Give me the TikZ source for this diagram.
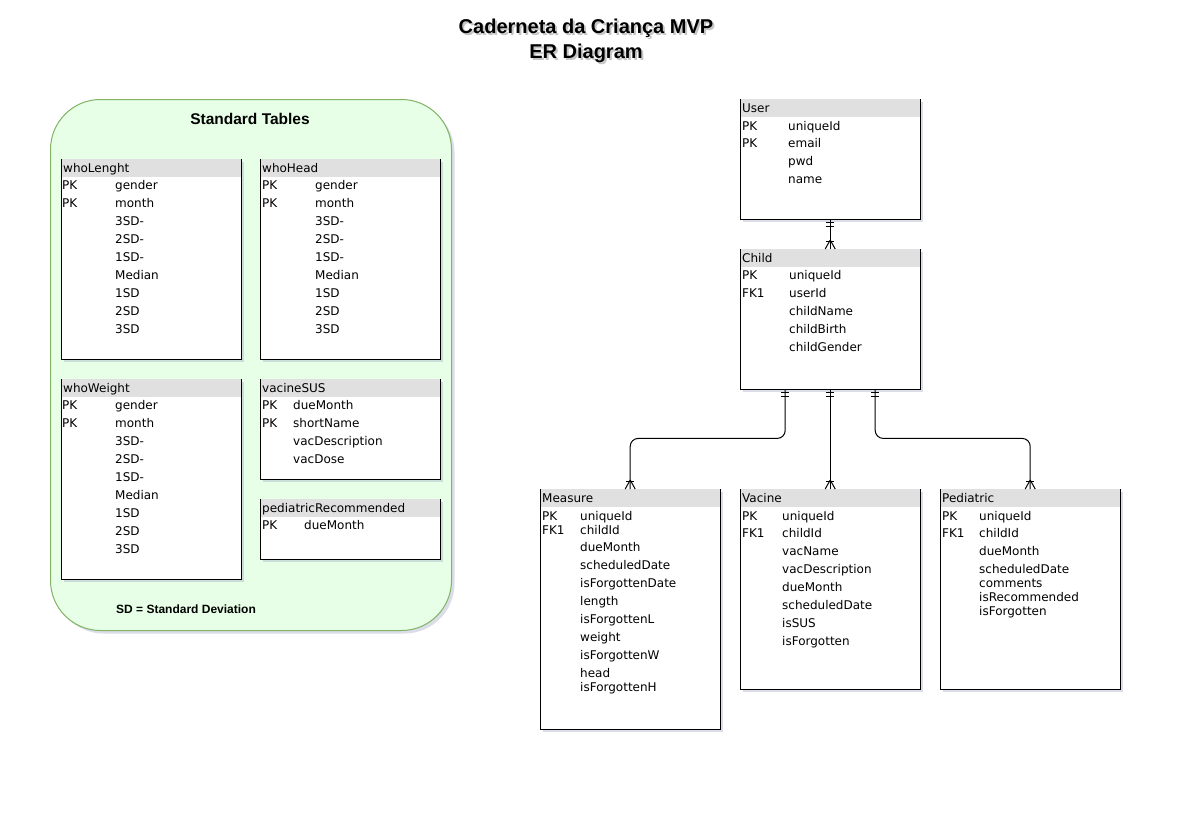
\documentclass[tikz,border=0pt]{standalone}
\usepackage{fontspec}
\setmainfont{DejaVu Sans}
\newfontfamily\arialfont{Liberation Sans}
\usetikzlibrary{positioning,shadows,decorations.markings}

\definecolor{hdrgray}{HTML}{E0E0E0}
\definecolor{stdfill}{HTML}{E6FFE6}
\definecolor{stdline}{HTML}{82B366}
\definecolor{shadowblue}{HTML}{9AA0C0}

\tikzset{
	tblbody/.style={anchor=north west,fill=white,inner sep=0pt,
		drop shadow={shadow xshift=3pt,shadow yshift=-3pt,fill=shadowblue,opacity=0.35}},
	fld/.style={anchor=west,inner sep=0pt,text height=10.5pt,text depth=1pt,
		font=\fontsize{12}{14}\selectfont},
	boldtxt/.style={font=\arialfont\bfseries\fontsize{#1}{#1}\selectfont},
	erel/.style={line width=1pt,postaction={decorate,decoration={markings,
		mark=at position 3pt with {\draw[line width=1pt] (0,-4pt) -- (0,4pt);},
		mark=at position 7pt with {\draw[line width=1pt] (0,-4pt) -- (0,4pt);},
		mark=at position -9pt with {\draw[line width=1pt] (0,0) -- (9pt,5pt) (0,0) -- (9pt,-5pt);},
		mark=at position -8pt with {\draw[line width=1pt] (0,-4pt) -- (0,4pt);}}}}
}

% table: name, x, y, width, height, title
\newcommand\ertable[6]{%
	\node[tblbody,minimum width=#4pt,minimum height=#5pt] (#1) at (#2,#3) {};
	\fill[hdrgray] (#1.north west) rectangle ([yshift=-18pt]#1.north east);
	\draw[line width=1pt] (#1.north west) |- (#1.south east) -- (#1.north east);
	\node[fld] (#1-title) at ([xshift=2pt,yshift=-9pt]#1.north west) {#6};
}

\begin{document}
\begin{tikzpicture}[x=1pt,y=-1pt]
	\path[use as bounding box,fill=white] (0,0) rectangle (1180,838);
	
	% title
	\node[font=\arialfont\bfseries\fontsize{20}{25}\selectfont,align=center,text=gray,opacity=0.45] (title-sh) at (588,43) {Caderneta da Criança MVP\\ER Diagram};
	\node[font=\arialfont\bfseries\fontsize{20}{25}\selectfont,align=center] (title) at (586,41) {Caderneta da Criança MVP\\ER Diagram};
	
	% standard tables
	\node[anchor=north west,minimum width=401pt,minimum height=531pt,rounded corners=50pt,
		fill=stdfill,draw=stdline,line width=1pt,
		drop shadow={shadow xshift=3pt,shadow yshift=-3pt,fill=shadowblue,opacity=0.35}] (std) at (50,99) {};
	\node[boldtxt=15.5] (std-title) at (250,119) {Standard Tables};
	\node[boldtxt=12,anchor=west,inner sep=0pt] (sd-note) at (116,609) {SD = Standard Deviation};
	
	\ertable{wholenght}{61}{159}{180}{200}{whoLenght}
	\ertable{whohead}{260}{159}{180}{200}{whoHead}
	\ertable{whoweight}{61}{379}{180}{200}{whoWeight}
	\ertable{vacinesus}{260}{379}{180}{100}{vacineSUS}
	\ertable{pedrec}{260}{499}{180}{60}{pediatricRecommended}
	
	\foreach \f [count=\i from 0] in {gender,month,3SD-,2SD-,1SD-,Median,1SD,2SD,3SD} {
		\node[fld] (wholenght-\i) at (115,185+18*\i) {\f};
		\node[fld] (whohead-\i) at (315,185+18*\i) {\f};
		\node[fld] (whoweight-\i) at (115,405+18*\i) {\f};
	}
	\foreach \y in {185,203} {
		\node[fld] (wholenght-k\y) at (62,\y) {PK};
		\node[fld] (whohead-k\y) at (262,\y) {PK};
		\node[fld] (whoweight-k\y) at (62,\y+220) {PK};
	}
	\foreach \f/\y in {dueMonth/405,shortName/423,vacDescription/441,vacDose/459}
		\node[fld] (vacinesus-\y) at (293,\y) {\f};
	\foreach \y in {405,423}
		\node[fld] (vacinesus-k\y) at (262,\y) {PK};
	\node[fld] (pedrec-k) at (262,525) {PK};
	\node[fld] (pedrec-f) at (304,525) {dueMonth};
	
	% app tables
	\ertable{user}{740}{99}{180}{120}{User}
	\ertable{child}{740}{249}{180}{140}{Child}
	\ertable{measure}{540}{489}{180}{240}{Measure}
	\ertable{vacine}{740}{489}{180}{200}{Vacine}
	\ertable{pediatric}{940}{489}{180}{200}{Pediatric}
	
	\foreach \k/\y in {PK/126,PK/143}
		\node[fld] (user-k\y) at (742,\y) {\k};
	\foreach \f/\y in {uniqueId/126,email/143,pwd/161,name/179}
		\node[fld] (user-\y) at (788,\y) {\f};
	
	\foreach \k/\y in {PK/275,FK1/293}
		\node[fld] (child-k\y) at (742,\y) {\k};
	\foreach \f/\y in {uniqueId/275,userId/293,childName/311,childBirth/329,childGender/347}
		\node[fld] (child-\y) at (789,\y) {\f};
	
	\foreach \k/\y in {PK/516,FK1/530}
		\node[fld] (measure-k\y) at (542,\y) {\k};
	\foreach \f/\y in {uniqueId/516,childId/530,dueMonth/547,scheduledDate/565,isForgottenDate/583,
		length/601,isForgottenL/619,weight/637,isForgottenW/655,head/673,isForgottenH/687}
		\node[fld] (measure-\y) at (580,\y) {\f};
	
	\foreach \k/\y in {PK/516,FK1/533}
		\node[fld] (vacine-k\y) at (742,\y) {\k};
	\foreach \f/\y in {uniqueId/516,childId/533,vacName/551,vacDescription/569,dueMonth/587,
		scheduledDate/605,isSUS/623,isForgotten/641}
		\node[fld] (vacine-\y) at (782,\y) {\f};
	
	\foreach \k/\y in {PK/516,FK1/533}
		\node[fld] (pediatric-k\y) at (942,\y) {\k};
	\foreach \f/\y in {uniqueId/516,childId/533,dueMonth/551,scheduledDate/569,comments/583,
		isRecommended/597,isForgotten/611}
		\node[fld] (pediatric-\y) at (979,\y) {\f};
	
	% relations
	\draw[erel] (user.south) -- (child.north);
	\draw[erel,rounded corners=8pt] ([xshift=-45pt]child.south) -- ++(0,49) -| (measure.north);
	\draw[erel] (child.south) -- (vacine.north);
	\draw[erel,rounded corners=8pt] ([xshift=45pt]child.south) -- ++(0,49) -| (pediatric.north);
\end{tikzpicture}
\end{document}
